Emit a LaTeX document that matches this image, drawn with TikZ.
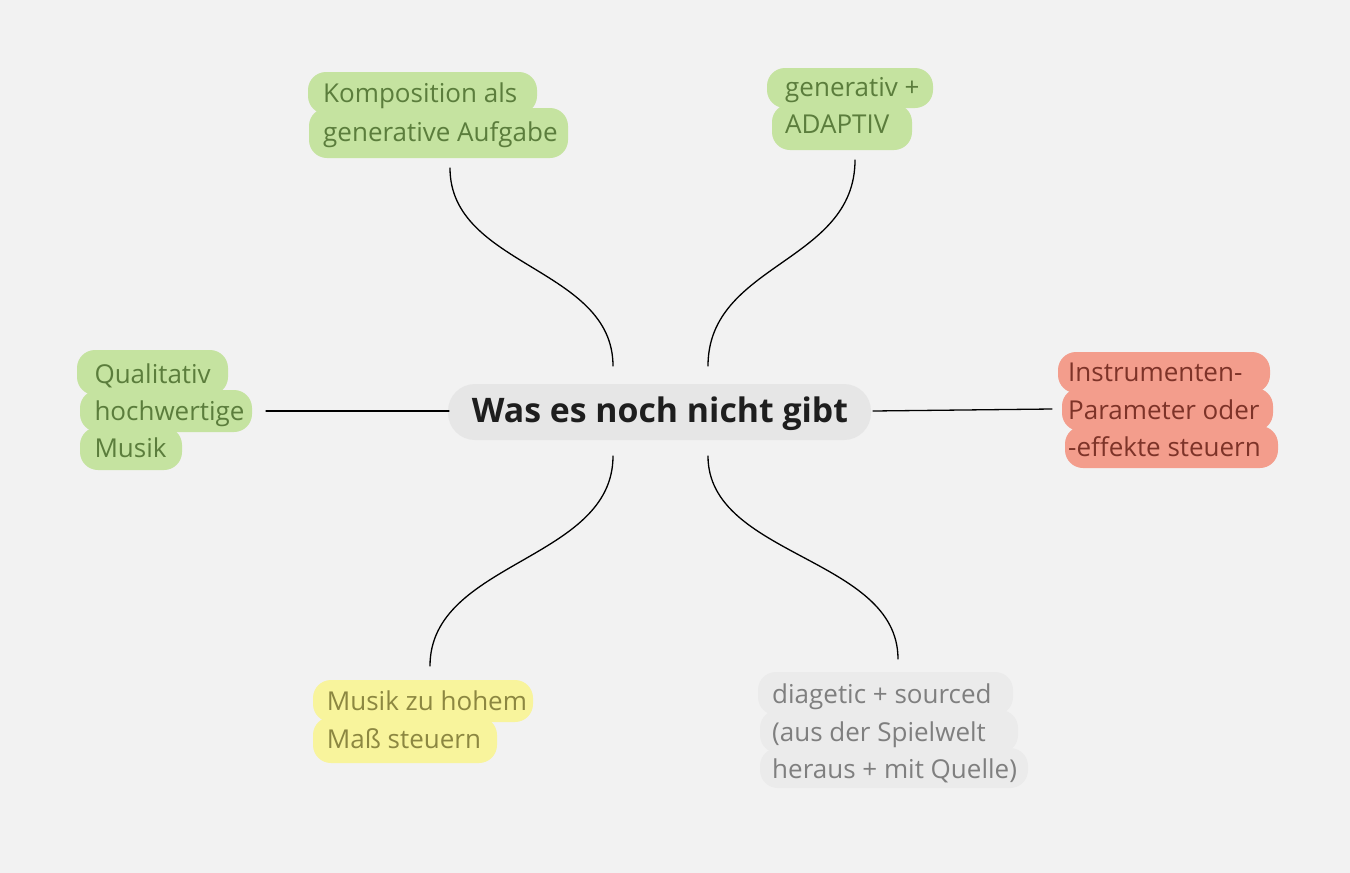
\documentclass[tikz,border=0pt]{standalone}
\usepackage{fontspec}
\setmainfont{Open Sans}
\definecolor{bg}{HTML}{F2F2F2}
\definecolor{gfill}{HTML}{C5E3A0}
\definecolor{gtext}{HTML}{5B7D3C}
\definecolor{rfill}{HTML}{F39D8C}
\definecolor{rtext}{HTML}{7D3328}
\definecolor{yfill}{HTML}{F8F49C}
\definecolor{ytext}{HTML}{8C8741}
\definecolor{hfill}{HTML}{EBEBEB}
\definecolor{htext}{HTML}{7F7F7F}
\definecolor{cfill}{HTML}{E6E6E6}
\definecolor{ctext}{HTML}{1E1E1E}
\tikzset{
  leaf/.style={anchor=base west, inner sep=0pt, font=\fontsize{26}{30}\selectfont},
  hl/.style={rounded corners=18pt},
  conn/.style={draw=black, line width=1.3pt, line cap=round},
}
\begin{document}
\begin{tikzpicture}[x=1pt,y=-1pt]
\fill[bg] (0,0) rectangle (1350,873);
\useasboundingbox (0,0) rectangle (1350,873);
% highlights
% Komposition
\fill[gfill,hl] (308,72) rectangle (537,114);
\fill[gfill,hl] (309,108) rectangle (568,158);
% generativ
\fill[gfill,hl] (767,68) rectangle (933,108);
\fill[gfill,hl] (772,104) rectangle (912,150);
% Qualitativ
\fill[gfill,hl] (77,350) rectangle (228,395);
\fill[gfill,hl] (80,390) rectangle (252,432);
\fill[gfill,hl] (80,427) rectangle (182,470);
% Instrumenten
\fill[rfill,hl] (1058,352) rectangle (1270,393);
\fill[rfill,hl] (1062,388) rectangle (1273,431);
\fill[rfill,hl] (1065,426) rectangle (1278,468);
% Musik zu hohem
\fill[yfill,hl] (313,680) rectangle (533,722);
\fill[yfill,hl] (313,717) rectangle (497,763);
% diagetic
\fill[hfill,hl] (758,672) rectangle (1013,715);
\fill[hfill,hl] (760,710) rectangle (1018,753);
\fill[hfill,hl] (760,748) rectangle (1028,788);
% center
\fill[cfill,rounded corners=27pt] (448,384) rectangle (871,440);
% texts
\node[leaf,text=gtext] (k1) at (323,102.7) {Komposition als};
\node[leaf,text=gtext] (k2) at (323,141) {generative Aufgabe};
\node[leaf,text=gtext] (g1) at (785,96.7) {generativ +};
\node[leaf,text=gtext] (g2) at (785,133.3) {ADAPTIV};
\node[leaf,text=gtext] (q1) at (94.3,383.3) {Qualitativ};
\node[leaf,text=gtext] (q2) at (94.3,420) {hochwertige};
\node[leaf,text=gtext] (q3) at (94.3,457) {Musik};
\node[leaf,text=rtext] (i1) at (1068,381.7) {Instrumenten-};
\node[leaf,text=rtext] (i2) at (1068,419) {Parameter oder};
\node[leaf,text=rtext] (i3) at (1068,456.7) {-effekte steuern};
\node[leaf,text=ytext] (m1) at (326.7,710) {Musik zu hohem};
\node[leaf,text=ytext] (m2) at (326.7,748.3) {Maß steuern};
\node[leaf,text=htext] (d1) at (772,703.3) {diagetic + sourced};
\node[leaf,text=htext] (d2) at (772,741.7) {(aus der Spielwelt};
\node[leaf,text=htext] (d3) at (772,778.3) {heraus + mit Quelle)};
\node[anchor=base, inner sep=0pt, text=ctext, font=\fontsize{33.8}{38}\selectfont\bfseries] (center) at (660,422.7) {Was es noch nicht gibt};
% connector endpoints
\coordinate (cTL) at (613,366);
\coordinate (cTR) at (708,366);
\coordinate (cBL) at (613,456);
\coordinate (cBR) at (708,456);
\coordinate (cL) at (449,411);
\coordinate (cR) at (873,411);
\coordinate (eK) at (450,168);
\coordinate (eG) at (855,160);
\coordinate (eQ) at (266,411);
\coordinate (eI) at (1052,409);
\coordinate (eM) at (430,666);
\coordinate (eD) at (898,659);
\draw[conn] (eK) .. controls (450,267) and (613,267) .. (cTL);
\draw[conn] (eG) .. controls (855,263) and (708,263) .. (cTR);
\draw[conn] (eQ) -- (cL);
\draw[conn] (cR) -- (eI);
\draw[conn] (cBL) .. controls (613,561) and (430,561) .. (eM);
\draw[conn] (cBR) .. controls (708,557) and (898,557) .. (eD);
\end{tikzpicture}
\end{document}
